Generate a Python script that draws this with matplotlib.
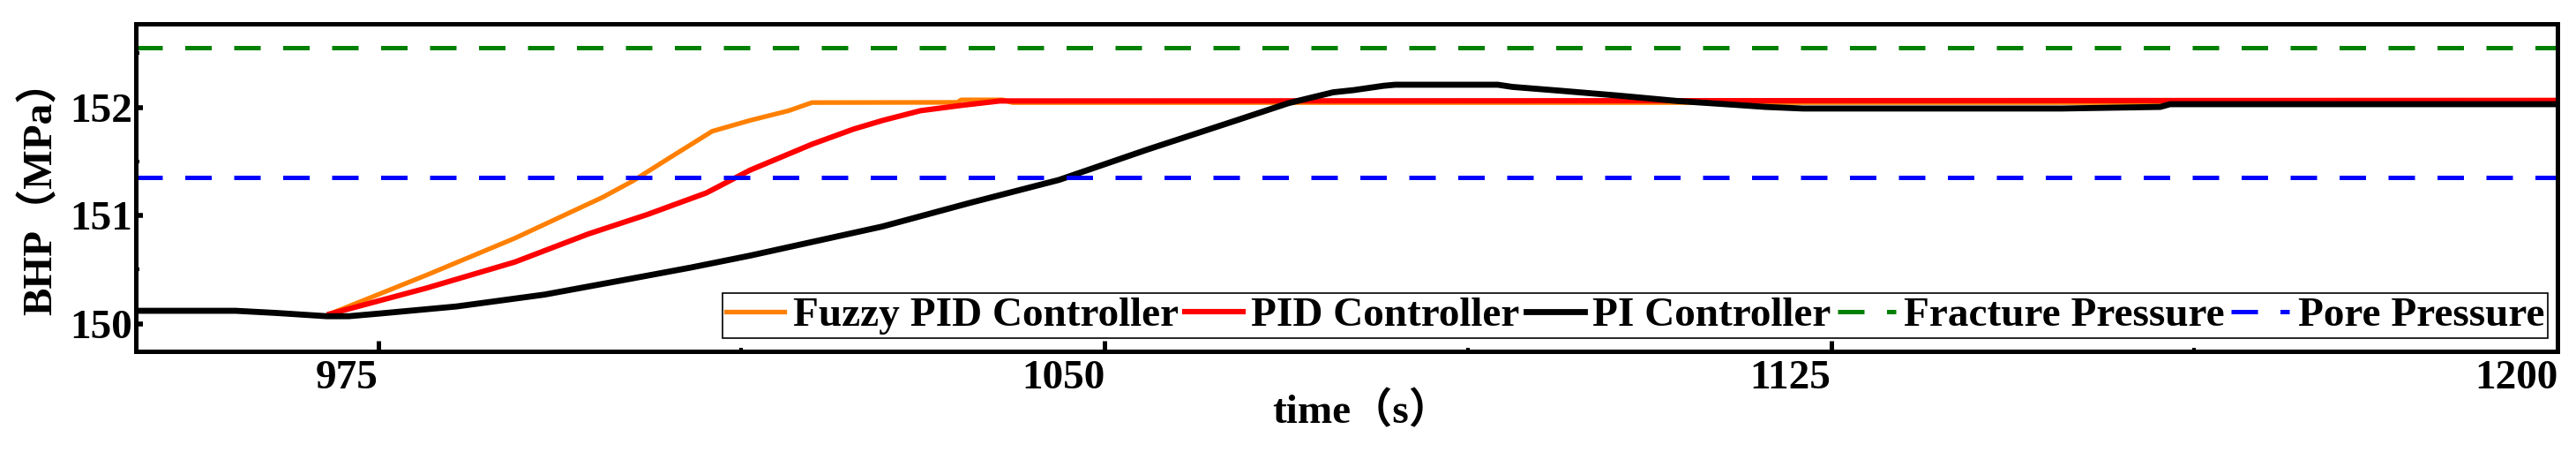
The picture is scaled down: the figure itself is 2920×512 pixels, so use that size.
import matplotlib
matplotlib.use('Agg')
import matplotlib.pyplot as plt
from matplotlib.ticker import FixedLocator

plt.rcParams['font.family'] = ['Liberation Serif', 'Noto Sans CJK SC']
plt.rcParams['font.weight'] = 'bold'
plt.rcParams['font.size'] = 34

# ---- data ----
fuzzy_t = [970.0, 980.0, 989.1, 998.2, 1001.3, 1005.2, 1009.5, 1013.4, 1017.4, 1019.8,
           1034.8, 1035.2, 1039.5, 1040.5, 1200.0]
fuzzy_p = [150.09, 150.45, 150.79, 151.17, 151.32, 151.54, 151.78, 151.88, 151.97, 152.045,
           152.047, 152.07, 152.07, 152.045, 152.045]

pid_t = [970.0, 980.0, 989.1, 996.7, 1002.8, 1008.9, 1013.4, 1019.8, 1024.1, 1027.1,
         1031.0, 1035.3, 1039.2, 1200.0]
pid_p = [150.09, 150.33, 150.57, 150.83, 151.01, 151.21, 151.42, 151.66, 151.80, 151.88,
         151.97, 152.02, 152.06, 152.065]

pi_t = [950.0, 960.3, 964.5, 969.7, 972.0, 975.2, 983.1, 992.2, 1001.3, 1007.3, 1013.4,
        1027.1, 1036.2, 1045.3, 1054.4, 1063.6, 1069.0, 1073.6, 1075.7, 1078.8, 1080.0,
        1090.6, 1092.1, 1097.0, 1103.0, 1109.1, 1115.8, 1118.2, 1122.1, 1148.8, 1159.0,
        1160.0, 1200.0]
pi_p = [150.12, 150.12, 150.10, 150.07, 150.07, 150.095, 150.16, 150.27, 150.42, 150.52, 150.63,
        150.90, 151.12, 151.33, 151.61, 151.88, 152.04, 152.14, 152.16, 152.20, 152.21,
        152.21, 152.19, 152.155, 152.11, 152.06, 152.02, 152.005, 151.99, 151.99, 152.005,
        152.03, 152.03]

fracture_pressure = 152.553
pore_pressure = 151.353

series_labels = ['Fuzzy PID Controller', 'PID Controller', 'PI Controller',
                 'Fracture Pressure', 'Pore Pressure']
x_ticks = [975, 1050, 1125, 1200]
x_tick_labels = ['975', '1050', '1125', '1200']
x_minor = [1012.5, 1087.5, 1162.5]
y_ticks = [150, 151, 152]
y_tick_labels = ['150', '151', '152']
y_minor = [150.5, 151.5, 152.5]

# ---- figure ----
fig = plt.figure(figsize=(29.2, 5.12), dpi=100)
ax = fig.add_axes([0.05274, 0.22266, 0.94007, 0.72461])

ax.plot(fuzzy_t, fuzzy_p, color='#FF8000', lw=3.8, label=series_labels[0])
ax.plot(pid_t, pid_p, color='#FF0000', lw=4.4, label=series_labels[1])
ax.plot(pi_t, pi_p, color='black', lw=4.9, label=series_labels[2])
ax.axhline(fracture_pressure, color='#008000', lw=3.6, dashes=(6, 5.1), label=series_labels[3])
ax.axhline(pore_pressure, color='#0000FF', lw=3.6, dashes=(6, 5.1), label=series_labels[4])

ax.set_xlim(950, 1200)
ax.set_ylim(149.745, 152.773)

ax.set_xticks(x_ticks, labels=x_tick_labels, ha='right')
ax.set_yticks(y_ticks, labels=y_tick_labels)
ax.xaxis.set_minor_locator(FixedLocator(x_minor))
ax.yaxis.set_minor_locator(FixedLocator(y_minor))

ax.tick_params(axis='x', which='major', direction='in', length=9, width=3.6, pad=7, labelsize=34)
ax.tick_params(axis='y', which='major', direction='in', length=6, width=4, pad=3, labelsize=34)
ax.tick_params(which='minor', direction='in', length=3, width=3)

for sp in ax.spines.values():
    sp.set_linewidth(3.6)

ax.set_ylabel('BHP（MPa）', fontsize=34, fontweight='bold')
ax.yaxis.set_label_coords(-0.0313, 0.5)
ax.set_xlabel('time（s）', fontsize=34, fontweight='bold')
ax.xaxis.set_label_coords(0.506, -0.125)

leg = ax.legend(loc='lower right', bbox_to_anchor=(0.996, 0.0404), borderaxespad=0,
                ncol=5, handlelength=1.4, handletextpad=0.2, columnspacing=0.15,
                borderpad=0.08, fancybox=False, edgecolor='black', framealpha=1,
                prop={'weight': 'bold', 'size': 34})
leg.get_frame().set_linewidth(1.2)

fig.savefig('out.png', dpi=100)
